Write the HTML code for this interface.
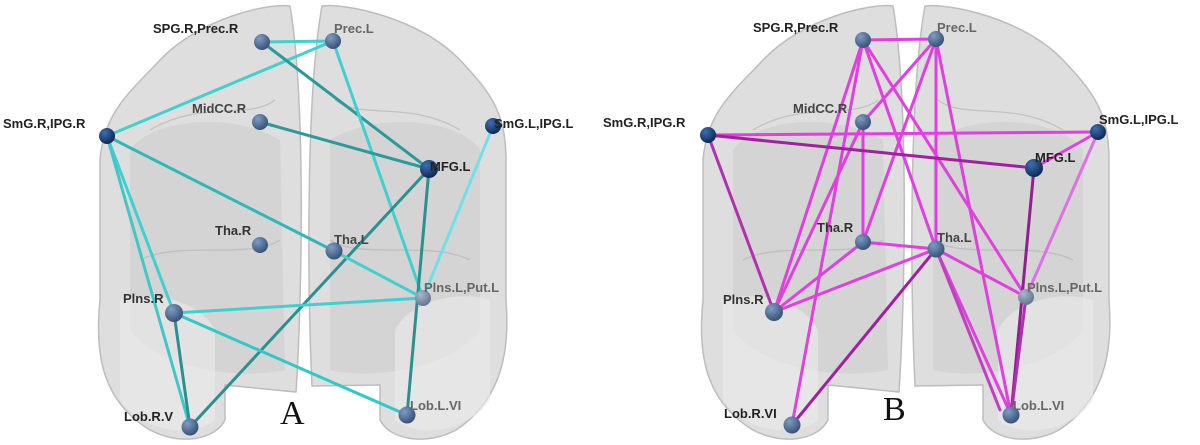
<!DOCTYPE html>
<html><head><meta charset="utf-8"><style>
html,body{margin:0;padding:0;background:#fff;}
svg{display:block;}
text{font-family:"Liberation Sans",Arial,sans-serif;font-weight:bold;font-size:13px;fill:#222;}
.g{fill:#666;}
.big{font-family:"Liberation Serif",serif;font-weight:normal;font-size:34px;fill:#111;}
</style></head><body>
<svg width="1200" height="445" viewBox="0 0 1200 445" xmlns="http://www.w3.org/2000/svg">
<defs>
<radialGradient id="nd" cx="0.35" cy="0.3" r="0.7">
<stop offset="0" stop-color="#7f9cc4"/><stop offset="1" stop-color="#3a5478"/></radialGradient>
<radialGradient id="nd2" cx="0.35" cy="0.3" r="0.7">
<stop offset="0" stop-color="#3e6fb0"/><stop offset="1" stop-color="#0f2a55"/></radialGradient>
<radialGradient id="nd3" cx="0.35" cy="0.3" r="0.7">
<stop offset="0" stop-color="#a8b8cc"/><stop offset="1" stop-color="#66788f"/></radialGradient>
<g id="brain">
<path d="M290 6 C268 3 200 18 160 60 C130 92 104 112 100 160 L100 300 C95 350 100 400 150 430 C180 446 215 440 225 420 L225 385 L296 392 C302 300 306 100 290 6 Z" fill="#dedede" stroke="#bdbdbd" stroke-width="1.5"/>
<path d="M322 6 C345 3 420 18 460 60 C490 92 506 112 506 160 L506 300 C510 350 502 400 456 430 C426 446 390 440 380 420 L380 385 L312 386 C308 300 305 100 322 6 Z" fill="#dedede" stroke="#bdbdbd" stroke-width="1.5"/>
<path d="M130 150 C150 120 230 110 280 140 L285 370 C240 380 160 370 130 330 Z" fill="#c8c8c8" opacity="0.45"/>
<path d="M330 140 C380 110 460 120 480 150 L480 330 C450 370 370 380 330 370 Z" fill="#c8c8c8" opacity="0.45"/>
<path d="M120 300 C150 290 200 300 215 330 L215 420 C190 440 140 430 120 400 Z" fill="#ebebeb" opacity="0.6"/>
<path d="M490 300 C460 290 410 300 395 330 L395 420 C420 440 470 430 490 400 Z" fill="#ebebeb" opacity="0.6"/>
<path d="M150 130 C200 100 250 120 275 100 M335 100 C360 120 410 100 460 130 M140 260 C180 240 250 260 280 240 M330 240 C360 260 430 240 470 260" fill="none" stroke="#b5b5b5" stroke-width="1.2" opacity="0.7"/>
</g>
</defs>
<rect width="1200" height="445" fill="#fff"/>
<use href="#brain"/>
<use href="#brain" transform="translate(603,0)"/>

<!-- Panel A edges -->
<g stroke-width="3" stroke-linecap="round">
<line x1="262" y1="42" x2="333" y2="41" stroke="#40d0d0"/>
<line x1="333" y1="41" x2="107" y2="136" stroke="#40d0d0"/>
<line x1="262" y1="42" x2="429" y2="169" stroke="#2a9a9a"/>
<line x1="333" y1="41" x2="423" y2="298" stroke="#40d0d0"/>
<line x1="260" y1="122" x2="429" y2="169" stroke="#2a9a9a"/>
<line x1="493" y1="126" x2="423" y2="298" stroke="#70e0e8"/>
<line x1="107" y1="136" x2="334" y2="251" stroke="#30b8b8"/>
<line x1="107" y1="136" x2="174" y2="313" stroke="#40d0d0"/>
<line x1="107" y1="136" x2="190" y2="427" stroke="#40c8c8"/>
<line x1="429" y1="169" x2="190" y2="427" stroke="#2a9090"/>
<line x1="429" y1="169" x2="407" y2="415" stroke="#2a9090"/>
<line x1="334" y1="251" x2="423" y2="298" stroke="#40d0d0"/>
<line x1="174" y1="313" x2="423" y2="298" stroke="#40d0d0"/>
<line x1="174" y1="313" x2="407" y2="415" stroke="#30c8c8"/>
<line x1="174" y1="313" x2="190" y2="427" stroke="#2a9090"/>
</g>
<!-- Panel B edges -->
<g stroke-width="3" stroke-linecap="round" stroke="#e040e0">
<line x1="863" y1="40" x2="936" y2="39"/>
<line x1="863" y1="40" x2="774" y2="312"/>
<line x1="863" y1="40" x2="792" y2="425"/>
<line x1="863" y1="40" x2="936" y2="249"/>
<line x1="863" y1="40" x2="1026" y2="297"/>
<line x1="936" y1="39" x2="863" y2="122"/>
<line x1="936" y1="39" x2="863" y2="242"/>
<line x1="936" y1="39" x2="936" y2="249"/>
<line x1="936" y1="39" x2="1011" y2="415"/>
<line x1="863" y1="122" x2="863" y2="242"/>
<line x1="863" y1="122" x2="774" y2="312"/>
<line x1="708" y1="135" x2="1098" y2="132"/>
<line x1="708" y1="135" x2="1034" y2="168" stroke="#a020a0"/>
<line x1="708" y1="135" x2="774" y2="312" stroke="#b030b0"/>
<line x1="1098" y1="132" x2="1034" y2="168"/>
<line x1="1098" y1="132" x2="1026" y2="297" stroke="#e070e8"/>
<line x1="1034" y1="168" x2="1011" y2="415" stroke="#902090"/>
<line x1="863" y1="242" x2="936" y2="249"/>
<line x1="863" y1="242" x2="774" y2="312"/>
<line x1="936" y1="249" x2="774" y2="312"/>
<line x1="936" y1="249" x2="792" y2="425" stroke="#a020a0"/>
<line x1="936" y1="249" x2="1026" y2="297"/>
<line x1="936" y1="249" x2="1011" y2="415"/>
<line x1="936" y1="249" x2="1000" y2="410" stroke="#c040c0"/>
<line x1="1026" y1="297" x2="1011" y2="415" stroke="#b030b0"/>
</g>

<!-- Panel A nodes -->
<g>
<circle cx="262" cy="42" r="8" fill="url(#nd)"/>
<circle cx="333" cy="41" r="8" fill="url(#nd)"/>
<circle cx="260" cy="122" r="8" fill="url(#nd)"/>
<circle cx="107" cy="136" r="8" fill="url(#nd2)"/>
<circle cx="493" cy="126" r="8" fill="url(#nd2)"/>
<circle cx="429" cy="169" r="9" fill="url(#nd2)"/>
<circle cx="260" cy="245" r="8" fill="url(#nd)"/>
<circle cx="334" cy="251" r="8.5" fill="url(#nd)"/>
<circle cx="423" cy="298" r="8" fill="url(#nd3)"/>
<circle cx="174" cy="313" r="9" fill="url(#nd)"/>
<circle cx="190" cy="427" r="8.5" fill="url(#nd)"/>
<circle cx="407" cy="415" r="8.5" fill="url(#nd)"/>
</g>
<!-- Panel B nodes -->
<g>
<circle cx="863" cy="40" r="8" fill="url(#nd)"/>
<circle cx="936" cy="39" r="8" fill="url(#nd)"/>
<circle cx="863" cy="122" r="8" fill="url(#nd)"/>
<circle cx="708" cy="135" r="8" fill="url(#nd2)"/>
<circle cx="1098" cy="132" r="8" fill="url(#nd2)"/>
<circle cx="1034" cy="168" r="9" fill="url(#nd2)"/>
<circle cx="863" cy="242" r="8" fill="url(#nd)"/>
<circle cx="936" cy="249" r="8.5" fill="url(#nd)"/>
<circle cx="1026" cy="297" r="8" fill="url(#nd3)"/>
<circle cx="774" cy="312" r="9" fill="url(#nd)"/>
<circle cx="792" cy="425" r="8.5" fill="url(#nd)"/>
<circle cx="1011" cy="415" r="8.5" fill="url(#nd)"/>
</g>

<!-- Panel A labels -->
<text x="153" y="33">SPG.R,Prec.R</text>
<text x="334" y="33" class="g">Prec.L</text>
<text x="192" y="113" class="g" style="fill:#444">MidCC.R</text>
<text x="3" y="128">SmG.R,IPG.R</text>
<text x="494" y="128">SmG.L,IPG.L</text>
<text x="430" y="171">MFG.L</text>
<text x="215" y="235" style="fill:#333">Tha.R</text>
<text x="334" y="244" style="fill:#444">Tha.L</text>
<text x="424" y="292" class="g">Plns.L,Put.L</text>
<text x="123" y="303" style="fill:#333">Plns.R</text>
<text x="124" y="421">Lob.R.V</text>
<text x="410" y="410" class="g">Lob.L.VI</text>
<text x="280" y="424" class="big">A</text>

<!-- Panel B labels -->
<text x="753" y="32">SPG.R,Prec.R</text>
<text x="937" y="32" class="g">Prec.L</text>
<text x="793" y="113" class="g" style="fill:#444">MidCC.R</text>
<text x="603" y="127">SmG.R,IPG.R</text>
<text x="1099" y="124">SmG.L,IPG.L</text>
<text x="1035" y="162">MFG.L</text>
<text x="817" y="232" style="fill:#333">Tha.R</text>
<text x="937" y="242" style="fill:#444">Tha.L</text>
<text x="1027" y="292" class="g">Plns.L,Put.L</text>
<text x="723" y="304" style="fill:#333">Plns.R</text>
<text x="724" y="418">Lob.R.VI</text>
<text x="1013" y="410" class="g">Lob.L.VI</text>
<text x="883" y="420" class="big">B</text>
</svg>
</body></html>
